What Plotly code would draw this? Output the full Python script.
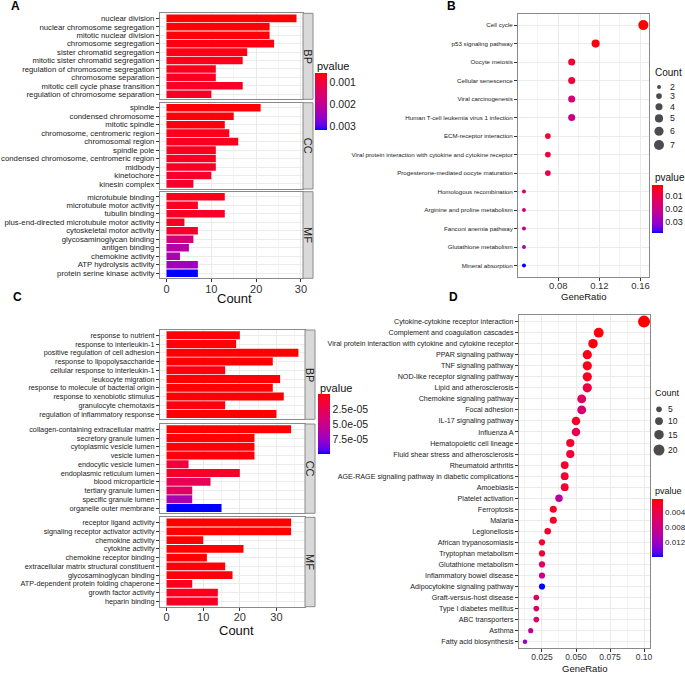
import plotly.graph_objects as go

W, H = 685, 674
def fx(px): return px / W
def fy(py): return 1 - py / H

LAB = "Liberation Sans, Arial, sans-serif"
REG = "Liberation Sans, Arial, sans-serif"

# ---------------- DATA ----------------
# Panel A (GO, bar)
A_BP_terms = ["nuclear division", "nuclear chromosome segregation", "mitotic nuclear division",
              "chromosome segregation", "sister chromatid segregation", "mitotic sister chromatid segregation",
              "regulation of chromosome segregation", "chromosome separation",
              "mitotic cell cycle phase transition", "regulation of chromosome separation"]
A_BP_count = [29, 23, 23, 24, 18, 17, 11, 11, 17, 10]
A_BP_p = [0.00057, 0.00060, 0.00062, 0.00065, 0.00068, 0.00070, 0.00072, 0.00075, 0.00078, 0.00080]

A_CC_terms = ["spindle", "condensed chromosome", "mitotic spindle", "chromosome, centromeric region",
              "chromosomal region", "spindle pole", "condensed chromosome, centromeric region",
              "midbody", "kinetochore", "kinesin complex"]
A_CC_count = [21, 15, 13, 14, 16, 11, 11, 11, 10, 6]
A_CC_p = [0.00060, 0.00063, 0.00066, 0.00070, 0.00072, 0.00075, 0.00078, 0.00080, 0.00082, 0.00085]

A_MF_terms = ["microtubule binding", "microtubule motor activity", "tubulin binding",
              "plus-end-directed microtubule motor activity", "cytoskeletal motor activity",
              "glycosaminoglycan binding", "antigen binding", "chemokine activity",
              "ATP hydrolysis activity", "protein serine kinase activity"]
A_MF_count = [13, 7, 13, 4, 7, 6, 5, 3, 7, 7]
A_MF_p = [0.00070, 0.00075, 0.00080, 0.00080, 0.00085, 0.00170, 0.00220, 0.00230, 0.00245, 0.00318]
A_p_ticks = [0.001, 0.002, 0.003]

# Panel B (KEGG, dot)
B_terms = ["Cell cycle", "p53 signaling pathway", "Oocyte meiosis", "Cellular senescence",
           "Viral carcinogenesis", "Human T-cell leukemia virus 1 infection", "ECM-receptor interaction",
           "Viral protein interaction with cytokine and cytokine receptor",
           "Progesterone-mediated oocyte maturation", "Homologous recombination",
           "Arginine and proline metabolism", "Fanconi anemia pathway", "Glutathione metabolism",
           "Mineral absorption"]
B_ratio = [0.1628, 0.1163, 0.0930, 0.0930, 0.0930, 0.0930, 0.0698, 0.0698, 0.0698,
           0.0465, 0.0465, 0.0465, 0.0465, 0.0465]
B_count = [7, 5, 4, 4, 4, 4, 3, 3, 3, 2, 2, 2, 2, 2]
B_p = [0.0015, 0.0025, 0.0070, 0.0075, 0.0170, 0.0200, 0.0060, 0.0080, 0.0085,
       0.0120, 0.0180, 0.0210, 0.0270, 0.0385]
B_count_legend = [2, 3, 4, 5, 6, 7]
B_p_ticks = [0.01, 0.02, 0.03]
B_x_ticks = [0.08, 0.12, 0.16]

# Panel C (GO, bar)
C_BP_terms = ["response to nutrient", "response to interleukin-1", "positive regulation of cell adhesion",
              "response to lipopolysaccharide", "cellular response to interleukin-1", "leukocyte migration",
              "response to molecule of bacterial origin", "response to xenobiotic stimulus",
              "granulocyte chemotaxis", "regulation of inflammatory response"]
C_BP_count = [20, 19, 36, 29, 16, 31, 29, 32, 16, 30]
C_BP_p = [1.5e-6, 2.0e-6, 1.0e-7, 5e-7, 2.5e-6, 3e-7, 6e-7, 2e-7, 3e-6, 4e-7]

C_CC_terms = ["collagen-containing extracellular matrix", "secretory granule lumen",
              "cytoplasmic vesicle lumen", "vesicle lumen", "endocytic vesicle lumen",
              "endoplasmic reticulum lumen", "blood microparticle", "tertiary granule lumen",
              "specific granule lumen", "organelle outer membrane"]
C_CC_count = [34, 24, 24, 24, 6, 20, 12, 7, 7, 15]
C_CC_p = [2e-7, 1.2e-6, 1.3e-6, 1.4e-6, 1.6e-5, 1.0e-5, 2.6e-5, 3.2e-5, 6.6e-5, 9.9e-5]

C_MF_terms = ["receptor ligand activity", "signaling receptor activator activity", "chemokine activity",
              "cytokine activity", "chemokine receptor binding", "extracellular matrix structural constituent",
              "glycosaminoglycan binding", "ATP-dependent protein folding chaperone",
              "growth factor activity", "heparin binding"]
C_MF_count = [34, 34, 10, 21, 11, 16, 18, 7, 14, 14]
C_MF_p = [1e-7, 1.1e-7, 8e-7, 5e-7, 9e-7, 2e-6, 2.2e-6, 5e-6, 7e-6, 8e-6]
C_p_ticks = [2.5e-5, 5.0e-5, 7.5e-5]
C_p_ticktext = ["2.5e-05", "5.0e-05", "7.5e-05"]

# Panel D (KEGG, dot)
D_terms = ["Cytokine-cytokine receptor interaction", "Complement and coagulation cascades",
           "Viral protein interaction with cytokine and cytokine receptor", "PPAR signaling pathway",
           "TNF signaling pathway", "NOD-like receptor signaling pathway", "Lipid and atherosclerosis",
           "Chemokine signaling pathway", "Focal adhesion", "IL-17 signaling pathway", "Influenza A",
           "Hematopoietic cell lineage", "Fluid shear stress and atherosclerosis", "Rheumatoid arthritis",
           "AGE-RAGE signaling pathway in diabetic complications", "Amoebiasis", "Platelet activation",
           "Ferroptosis", "Malaria", "Legionellosis", "African trypanosomiasis", "Tryptophan metabolism",
           "Glutathione metabolism", "Inflammatory bowel disease", "Adipocytokine signaling pathway",
           "Graft-versus-host disease", "Type I diabetes mellitus", "ABC transporters", "Asthma",
           "Fatty acid biosynthesis"]
D_count = [24, 16, 15, 14, 14, 14, 14, 13, 13, 12, 12, 11, 11, 10, 10, 10, 9, 8, 8, 7,
           6, 6, 6, 6, 6, 5, 5, 5, 4, 3]
D_ratio = [0.1000, 0.0667, 0.0625, 0.0583, 0.0583, 0.0583, 0.0583, 0.0542, 0.0542, 0.0500,
           0.0500, 0.0458, 0.0458, 0.0417, 0.0417, 0.0417, 0.0375, 0.0333, 0.0333, 0.0292,
           0.0250, 0.0250, 0.0250, 0.0250, 0.0250, 0.0208, 0.0208, 0.0208, 0.0167, 0.0125]
D_p = [0.0007, 0.0009, 0.0011, 0.0013, 0.0015, 0.0018, 0.0035, 0.0055, 0.0068, 0.0022,
       0.0045, 0.0025, 0.0032, 0.0024, 0.0026, 0.0027, 0.0098, 0.0020, 0.0021, 0.0023,
       0.0024, 0.0026, 0.0052, 0.0085, 0.0160, 0.0062, 0.0064, 0.0060, 0.0095, 0.0125]
D_count_legend = [5, 10, 15, 20]
D_p_ticks = [0.004, 0.008, 0.012]
D_x_ticks = [0.025, 0.050, 0.075, 0.100]
D_x_ticktext = ["0.025", "0.050", "0.075", "0.10"]

# ---------------- colour scale (ggplot-like Lab interpolation red->blue) ----------------
def _lin(c):
    c = c / 255.0
    return c / 12.92 if c <= 0.04045 else ((c + 0.055) / 1.055) ** 2.4
def _gam(c):
    c = 12.92 * c if c <= 0.0031308 else 1.055 * c ** (1 / 2.4) - 0.055
    return max(0, min(255, round(c * 255)))
WX, WY, WZ = 0.95047, 1.0, 1.08883
def rgb2lab(r, g, b):
    r, g, b = _lin(r), _lin(g), _lin(b)
    X = 0.4124 * r + 0.3576 * g + 0.1805 * b
    Y = 0.2126 * r + 0.7152 * g + 0.0722 * b
    Z = 0.0193 * r + 0.1192 * g + 0.9505 * b
    def f(t): return t ** (1 / 3) if t > 0.008856 else 7.787 * t + 16 / 116
    fx_, fy_, fz_ = f(X / WX), f(Y / WY), f(Z / WZ)
    return 116 * fy_ - 16, 500 * (fx_ - fy_), 200 * (fy_ - fz_)
def lab2rgb(L, a, b):
    fy_ = (L + 16) / 116; fx_ = fy_ + a / 500; fz_ = fy_ - b / 200
    def fi(t): return t ** 3 if t ** 3 > 0.008856 else (t - 16 / 116) / 7.787
    X, Y, Z = WX * fi(fx_), WY * fi(fy_), WZ * fi(fz_)
    r = 3.2406 * X - 1.5372 * Y - 0.4986 * Z
    g = -0.9689 * X + 1.8758 * Y + 0.0415 * Z
    bb = 0.0557 * X - 0.2040 * Y + 1.0570 * Z
    return "rgb(%d,%d,%d)" % (_gam(max(r, 0)), _gam(max(g, 0)), _gam(max(bb, 0)))
lab_red, lab_blue = rgb2lab(255, 0, 0), rgb2lab(0, 0, 255)
CSCALE = []
N = 20
for i in range(N + 1):
    s = i / N          # s=0 -> high p (blue), s=1 -> low p (red)
    t = 1 - s
    L = lab_red[0] + t * (lab_blue[0] - lab_red[0])
    a = lab_red[1] + t * (lab_blue[1] - lab_red[1])
    b = lab_red[2] + t * (lab_blue[2] - lab_red[2])
    CSCALE.append([s, lab2rgb(L, a, b)])

def neg(v): return [-x for x in v]

fig = go.Figure()
layout = dict(template="none", width=W, height=H,
              margin=dict(l=0, r=0, t=0, b=0, pad=0, autoexpand=False), autosize=False,
              paper_bgcolor="white", plot_bgcolor="rgba(0,0,0,0)", showlegend=False, bargap=0.1,
              font=dict(family=REG, size=10, color="#222"))
annotations, shapes = [], []

GRID = "#EBEBEB"
MINOR = "#F4F4F4"
FRAME = "#8A8A8A"

def add_axes(n, xdom, ydom, xrange, yrange, cats, xdtick, xminor, tick0, showx, ylabfont, xtickvals=None, xticktext=None, xfont=None):
    xa = dict(domain=xdom, range=xrange, anchor="y%d" % n, showgrid=True, gridcolor=GRID, gridwidth=1,
              zeroline=False, showline=True, mirror=True, linecolor=FRAME, linewidth=1, automargin=False,
              ticks="outside" if showx else "", ticklen=3, tickcolor="#333", showticklabels=showx,
              ticklabelstandoff=-3,
              tickfont=xfont or dict(family=REG, size=11, color="#333"),
              minor=dict(showgrid=True, gridcolor=MINOR, gridwidth=0.6, dtick=xminor, tick0=tick0, ticks=""))
    if xtickvals is not None:
        xa.update(tickmode="array", tickvals=xtickvals, ticktext=xticktext)
    else:
        xa.update(dtick=xdtick, tick0=tick0)
    ya = dict(domain=ydom, range=yrange, anchor="x%d" % n, type="category", categoryorder="array",
              categoryarray=cats, tickmode="array", tickvals=cats, ticktext=cats,
              showgrid=True, gridcolor=GRID, gridwidth=1, zeroline=False, automargin=False,
              showline=True, mirror=True, linecolor=FRAME, linewidth=1, ticks="outside", ticklen=3,
              tickcolor="#333", tickfont=ylabfont)
    sfx = "" if n == 1 else str(n)
    layout["xaxis" + sfx] = xa
    layout["yaxis" + sfx] = ya

def bar_panel(start_n, facets, xleft, xright, xrange, pmin, pmax, pticks, ptext, cb_pos, strip_x, lab_size):
    for k, (terms, counts, pv, top, bot, name) in enumerate(facets):
        n = start_n + k
        last = (k == len(facets) - 1)
        add_axes(n, [fx(xleft), fx(xright)], [fy(bot), fy(top)], xrange, [9.6, -0.6], terms, 10, 5, 0,
                 last, dict(family=LAB, size=lab_size, color="#222"))
        tr = dict(orientation="h", x=counts, y=terms, xaxis="x%d" % n, yaxis="y%d" % n,
                  marker=dict(color=neg(pv), colorscale=CSCALE, cmin=-pmax, cmax=-pmin,
                              line=dict(width=0), showscale=last),
                  hoverinfo="skip")
        if last:
            cx, ctop, clen = cb_pos
            tr["marker"]["colorbar"] = dict(x=fx(cx), xanchor="left", y=fy(ctop), yanchor="top",
                                            len=clen, lenmode="pixels", thickness=12, thicknessmode="pixels",
                                            xpad=0, ypad=0, outlinewidth=0, ticks="",
                                            tickmode="array", tickvals=neg(pticks), ticktext=ptext,
                                            tickfont=dict(family=REG, size=10.5, color="#222"))
        fig.add_trace(go.Bar(**tr))
        # strip
        shapes.append(dict(type="rect", xref="paper", yref="paper", x0=fx(strip_x[0]), x1=fx(strip_x[1]),
                           y0=fy(bot), y1=fy(top), fillcolor="#D9D9D9", line=dict(color=FRAME, width=1)))
        annotations.append(dict(x=fx((strip_x[0] + strip_x[1]) / 2), y=fy((top + bot) / 2), xref="paper",
                                yref="paper", text=name, showarrow=False, textangle=90,
                                xanchor="center", yanchor="middle",
                                font=dict(family=REG, size=11, color="#1A1A1A")))

# Panel A
bar_panel(1, [(A_BP_terms, A_BP_count, A_BP_p, 13.3, 99.3, "BP"),
              (A_CC_terms, A_CC_count, A_CC_p, 102.7, 189.0, "CC"),
              (A_MF_terms, A_MF_count, A_MF_p, 191.7, 278.3, "MF")],
          160, 303, [-1.45, 30.45], 0.00057, 0.00318, A_p_ticks, ["0.001", "0.002", "0.003"],
          (315, 73.3, 57), (303, 313), 7.75)
annotations.append(dict(x=fx(315), y=fy(66), xref="paper", yref="paper", text="pvalue", showarrow=False,
                        xanchor="left", yanchor="middle", font=dict(family=REG, size=11, color="#111")))
annotations.append(dict(x=fx(234), y=fy(298), xref="paper", yref="paper", text="Count", showarrow=False,
                        xanchor="center", yanchor="middle", font=dict(family=REG, size=13, color="#111")))

# Panel C
bar_panel(5, [(C_BP_terms, C_BP_count, C_BP_p, 330, 419.3, "BP"),
              (C_CC_terms, C_CC_count, C_CC_p, 424, 513.3, "CC"),
              (C_MF_terms, C_MF_count, C_MF_p, 517.3, 606.7, "MF")],
          160, 305, [-1.8, 37.8], 1e-7, 9.9e-5, C_p_ticks, C_p_ticktext,
          (318, 394.3, 60), (305, 315), 7.25)
annotations.append(dict(x=fx(318), y=fy(388), xref="paper", yref="paper", text="pvalue", showarrow=False,
                        xanchor="left", yanchor="middle", font=dict(family=REG, size=11, color="#111")))
annotations.append(dict(x=fx(236), y=fy(630), xref="paper", yref="paper", text="Count", showarrow=False,
                        xanchor="center", yanchor="middle", font=dict(family=REG, size=13, color="#111")))

# dot size mapping (ggplot-like: area linear in count)
def sizes(counts, cmin, cmax, dmin, dmax):
    return [(dmin ** 2 + (c - cmin) / (cmax - cmin) * (dmax ** 2 - dmin ** 2)) ** 0.5 for c in counts]

def dot_panel(n, terms, ratio, counts, pv, xdom, ydom, xrange, yrange, cmin, cmax, dmin, dmax,
              pmin, pmax, pticks, ptext, cb, xticks, xtext, xminor, labsize, xfont, cbfont):
    add_axes(n, xdom, ydom, xrange, yrange, terms, None, xminor, 0, True,
             dict(family=LAB, size=labsize, color="#222"), xtickvals=xticks, xticktext=xtext, xfont=xfont)
    cx, ctop, clen = cb
    fig.add_trace(go.Scatter(x=ratio, y=terms, xaxis="x%d" % n, yaxis="y%d" % n, mode="markers",
                             hoverinfo="skip",
                             marker=dict(size=sizes(counts, cmin, cmax, dmin, dmax), color=neg(pv),
                                         colorscale=CSCALE, cmin=-pmax, cmax=-pmin, opacity=1,
                                         line=dict(width=0), showscale=True,
                                         colorbar=dict(x=fx(cx), xanchor="left", y=fy(ctop), yanchor="top",
                                                       len=clen, lenmode="pixels", thickness=11,
                                                       thicknessmode="pixels", xpad=0, ypad=0,
                                                       outlinewidth=0, ticks="", tickmode="array",
                                                       tickvals=neg(pticks), ticktext=ptext,
                                                       tickfont=dict(family=REG, size=cbfont, color="#222")))))

# Panel B
dot_panel(4, B_terms, B_ratio, B_count, B_p, [fx(518), fx(649.3)], [fy(276.7), fy(14)],
          [0.0407, 0.1686], [13.6, -0.6], 2, 7, 4, 10, 0.0015, 0.0385, B_p_ticks,
          ["0.01", "0.02", "0.03"], (652.3, 185, 48), B_x_ticks, ["0.08", "0.12", "0.16"], 0.02, 6.2,
          dict(family=REG, size=9.5, color="#333"), 9)
# Panel D
dot_panel(8, D_terms, D_ratio, D_count, D_p, [fx(519), fx(650)], [fy(648.3), fy(315)],
          [0.0081, 0.1044], [29.6, -0.6], 3, 24, 4.5, 12, 0.0007, 0.016, D_p_ticks,
          ["0.004", "0.008", "0.012"], (652.3, 499.3, 58), D_x_ticks, D_x_ticktext, 0.0125, 7.15,
          dict(family=REG, size=8.5, color="#333"), 8)

annotations.append(dict(x=fx(583.5), y=fy(297), xref="paper", yref="paper", text="GeneRatio", showarrow=False,
                        xanchor="center", yanchor="middle", font=dict(family=REG, size=9.5, color="#111")))
annotations.append(dict(x=fx(584.5), y=fy(668), xref="paper", yref="paper", text="GeneRatio", showarrow=False,
                        xanchor="center", yanchor="middle", font=dict(family=REG, size=9.5, color="#111")))

# Count legends (drawn on an overlay axis measured in pixels)
layout["xaxis9"] = dict(domain=[0, 1], range=[0, W], visible=False, anchor="y9", fixedrange=True)
layout["yaxis9"] = dict(domain=[0, 1], range=[H, 0], visible=False, anchor="x9", fixedrange=True)

def count_legend(vals, cmin, cmax, dmin, dmax, title_y, first_y, gap, xdot, xlab, fsize, title_font):
    ds = sizes(vals, cmin, cmax, dmin, dmax)
    ys = [first_y]
    for i in range(1, len(ds)):
        ys.append(ys[-1] + ds[i - 1] / 2 + gap + ds[i] / 2)
    fig.add_trace(go.Scatter(x=[xdot] * len(vals), y=ys, xaxis="x9", yaxis="y9", mode="markers",
                             marker=dict(size=ds, color="black", line=dict(width=0)), hoverinfo="skip"))
    for v, yy in zip(vals, ys):
        annotations.append(dict(x=fx(xlab), y=fy(yy), xref="paper", yref="paper", text=str(v), showarrow=False,
                                xanchor="left", yanchor="middle", font=dict(family=REG, size=fsize, color="#222")))
    annotations.append(dict(x=fx(653), y=fy(title_y), xref="paper", yref="paper", text="Count",
                            showarrow=False, xanchor="left", yanchor="middle", font=title_font))

count_legend(B_count_legend, 2, 7, 4, 10, 72.3, 87.0, 4.2, 659, 668, 8.8,
             dict(family=REG, size=10, color="#111"))
count_legend(D_count_legend, 3, 24, 4.5, 12, 393.3, 409.3, 5.0, 659, 666, 8.5,
             dict(family=REG, size=9, color="#111"))
annotations.append(dict(x=fx(653), y=fy(177.3), xref="paper", yref="paper", text="pvalue", showarrow=False,
                        xanchor="left", yanchor="middle", font=dict(family=REG, size=10, color="#111")))
annotations.append(dict(x=fx(653), y=fy(491), xref="paper", yref="paper", text="pvalue", showarrow=False,
                        xanchor="left", yanchor="middle", font=dict(family=REG, size=9, color="#111")))

# Panel letters
for lt, px, py in [("A", 16, 6), ("B", 452, 6), ("C", 17, 297), ("D", 453, 297)]:
    annotations.append(dict(x=fx(px), y=fy(py), xref="paper", yref="paper", text="<b>%s</b>" % lt,
                            showarrow=False, xanchor="center", yanchor="middle",
                            font=dict(family=REG, size=12, color="#000")))

layout["annotations"] = annotations
layout["shapes"] = shapes
fig.update_layout(**layout)
fig.write_html("out.html", config={"displayModeBar": False},
               post_script="document.body.style.margin='0px';document.body.style.overflow='hidden';")
